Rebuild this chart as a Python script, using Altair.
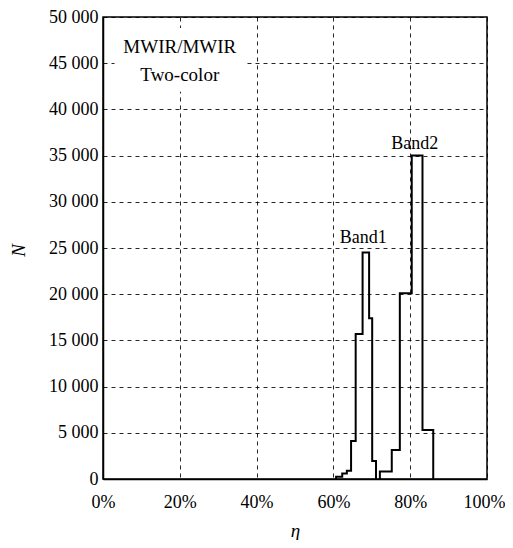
import altair as alt
import pandas as pd

# Band 1 histogram (bin edges as fraction, counts), step-after
band1_x = [0.607, 0.607, 0.623, 0.635, 0.646, 0.658, 0.676, 0.693, 0.701, 0.711]
band1_n = [0, 250, 600, 900, 4100, 15700, 24500, 17400, 1950, 0]

# Band 2 histogram
band2_x = [0.721, 0.721, 0.752, 0.773, 0.804, 0.832, 0.860]
band2_n = [0, 800, 3150, 20100, 35000, 5300, 0]

x_ticks = [0, 0.2, 0.4, 0.6, 0.8, 1.0]
y_ticks = list(range(0, 50001, 5000))

labels_text = ["Band1", "Band2"]
labels_x = [0.678, 0.812]
labels_y = [25500, 35700]

note_text = ["MWIR/MWIR", "Two-color"]
note_x = [0.2, 0.2]
note_y = [46700, 43700]

box_x = [0.03, 0.375]
box_y = [41900, 48800]

FONT = "Liberation Serif"

rows = []
for i, (x, n) in enumerate(zip(band1_x, band1_n)):
    rows.append({"band": "Band1", "x": x, "n": n, "i": i})
for i, (x, n) in enumerate(zip(band2_x, band2_n)):
    rows.append({"band": "Band2", "x": x, "n": n, "i": i})
df = pd.DataFrame(rows)

xscale = alt.Scale(domain=[0, 1], nice=False)
yscale = alt.Scale(domain=[0, 50000], nice=False)

xaxis = alt.Axis(values=x_ticks, format=".0%", title="η", grid=True,
                 titleFontStyle="italic", titleFontWeight="normal",
                 titleX=192, titleY=57, titleBaseline="alphabetic",
                 labelPadding=14, labelFlush=False,
                 labelAlign={"condition": {"test": "datum.value >= 1", "value": "right"},
                             "value": "center"},
                 labelOffset={"condition": {"test": "datum.value >= 1", "value": 18},
                              "value": 0})
yaxis = alt.Axis(values=y_ticks, title="N", grid=True,
                 labelExpr="replace(format(datum.value, ',d'), ',', ' ')",
                 titleFontStyle="italic", titleFontWeight="normal",
                 titleX=-85, titleY=233, titleAngle=-90, titleAlign="center",
                 titleBaseline="middle", labelPadding=5, labelFlush=False)

box = alt.Chart(pd.DataFrame({"x": [box_x[0]], "x2": [box_x[1]],
                              "y": [box_y[0]], "y2": [box_y[1]]})).mark_rect(
    color="white").encode(
    x=alt.X("x:Q", scale=xscale, axis=xaxis),
    x2="x2:Q",
    y=alt.Y("y:Q", scale=yscale, axis=yaxis),
    y2="y2:Q",
)

lines = alt.Chart(df).mark_line(interpolate="step-after", color="black",
                                strokeWidth=2).encode(
    x=alt.X("x:Q", scale=xscale, axis=xaxis),
    y=alt.Y("n:Q", scale=yscale, axis=yaxis),
    detail="band:N",
    order="i:Q",
)

band_labels = alt.Chart(pd.DataFrame({"t": labels_text, "x": labels_x,
                                      "y": labels_y})).mark_text(
    font=FONT, fontSize=18, color="black", baseline="alphabetic",
    align="center").encode(
    x=alt.X("x:Q", scale=xscale, axis=xaxis),
    y=alt.Y("y:Q", scale=yscale, axis=yaxis), text="t:N")

notes = alt.Chart(pd.DataFrame({"t": note_text, "x": note_x,
                                "y": note_y})).mark_text(
    font=FONT, fontSize=19, color="black", baseline="middle",
    align="center").encode(
    x=alt.X("x:Q", scale=xscale, axis=xaxis),
    y=alt.Y("y:Q", scale=yscale, axis=yaxis), text="t:N")

chart = alt.layer(box, lines, band_labels, notes).properties(
    width=384, height=462,
    background="white",
    autosize=alt.AutoSizeParams(type="none"),
    padding={"left": 95, "top": 9, "right": 18, "bottom": 61},
).configure_view(
    stroke="black", strokeWidth=1.5
).configure_axis(
    labelFont=FONT, titleFont=FONT, labelFontSize=18, titleFontSize=19,
    labelColor="black", titleColor="black",
    domainColor="black", domainWidth=1.5, ticks=False,
    gridColor="black", gridDash=[4, 4], gridWidth=1, gridOpacity=0.85,
)

chart.save("out.html", embed_options={"renderer": "svg", "actions": False})
